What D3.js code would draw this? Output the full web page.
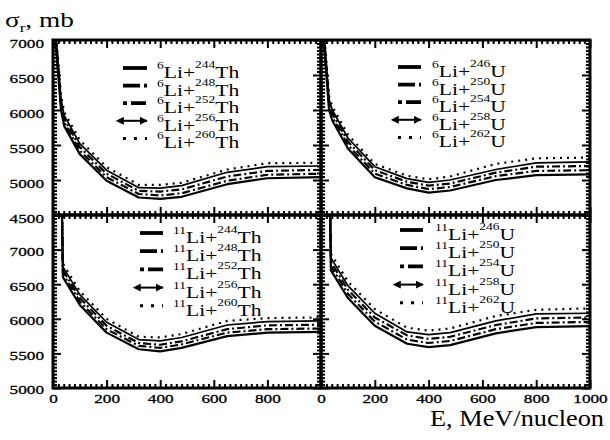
<!DOCTYPE html>
<html><head><meta charset="utf-8">
<script src="https://cdn.jsdelivr.net/npm/d3@7"></script>
<style>
body{margin:0;background:#fff}
svg{display:block}
svg text{font-family:'Liberation Serif','Times New Roman',Times,serif !important;fill:#000}
</style>
</head><body><svg id="c" width="610" height="440" font-family="Liberation Serif"></svg>
<script>
// ---------- data ----------
const energyTop = [8, 30, 42, 100, 200, 320, 400, 480, 650, 800, 1000];
const energyBottom = [33, 37, 100, 200, 320, 400, 480, 650, 800, 1000];
const thMasses = ["244", "248", "252", "256", "260"];
const uMasses = ["246", "250", "254", "258", "262"];
const xTickValues = [0, 200, 400, 600, 800, 1000];
const xLabelsLeft = [0, 200, 400, 600, 800];
const xLabelsRight = [0, 200, 400, 600, 800, 1000];
const yLabelsTop = [4500, 5000, 5500, 6000, 6500, 7000];
const yLabelsBottom = [5000, 5500, 6000, 6500, 7000];

// 6Li + Th (top left)
const li6Th244 = [7050, 6000, 5770, 5370, 4990, 4750, 4730, 4760, 4940, 5025, 5040];
const li6Th248 = [7100, 6050, 5820, 5420, 5040, 4800, 4780, 4810, 4990, 5075, 5090];
const li6Th252 = [7150, 6100, 5870, 5470, 5090, 4845, 4835, 4865, 5050, 5130, 5145];
const li6Th256 = [7200, 6150, 5920, 5520, 5140, 4890, 4885, 4920, 5110, 5190, 5200];
const li6Th260 = [7250, 6200, 5970, 5570, 5185, 4930, 4930, 4960, 5150, 5240, 5245];
// 6Li + U (top right)
const li6U246 = [7100, 6000, 5850, 5450, 5040, 4880, 4820, 4850, 5000, 5070, 5080];
const li6U250 = [7150, 6050, 5900, 5500, 5090, 4930, 4870, 4900, 5055, 5130, 5140];
const li6U254 = [7200, 6100, 5950, 5550, 5140, 4975, 4920, 4950, 5105, 5190, 5200];
const li6U258 = [7250, 6150, 6000, 5600, 5190, 5020, 4965, 5000, 5150, 5245, 5260];
const li6U262 = [7300, 6200, 6050, 5650, 5230, 5060, 5010, 5050, 5230, 5310, 5320];
// 11Li + Th (bottom left)
const li11Th244 = [7600, 6600, 6200, 5800, 5560, 5530, 5580, 5750, 5800, 5810];
const li11Th248 = [7650, 6650, 6250, 5850, 5610, 5580, 5630, 5800, 5850, 5860];
const li11Th252 = [7700, 6700, 6300, 5900, 5650, 5625, 5675, 5850, 5905, 5915];
const li11Th256 = [7750, 6750, 6350, 5950, 5700, 5680, 5730, 5910, 5960, 5970];
const li11Th260 = [7800, 6800, 6400, 6000, 5740, 5730, 5780, 5970, 6010, 6020];
// 11Li + U (bottom right)
const li11U246 = [7650, 6700, 6300, 5900, 5640, 5590, 5620, 5790, 5880, 5895];
const li11U250 = [7700, 6760, 6360, 5960, 5700, 5650, 5680, 5850, 5940, 5955];
const li11U254 = [7750, 6820, 6420, 6020, 5760, 5710, 5740, 5910, 6005, 6020];
const li11U258 = [7800, 6880, 6480, 6080, 5810, 5770, 5800, 5970, 6070, 6080];
const li11U262 = [7850, 6940, 6540, 6140, 5870, 5830, 5860, 6040, 6130, 6150];

// ---------- layout ----------
const FONT = "'Liberation Serif','Times New Roman',Times,serif";
const svg = d3.select("#c");
const X0 = 53, XM = 321, X1 = 590, Y0 = 40, YM = 215, Y1 = 388;
const xLeft = d3.scaleLinear([0, 1000], [X0, XM]);
const xRight = d3.scaleLinear([0, 1000], [XM, X1]);
const yTop = d3.scaleLinear([4500, 7000], [YM, Y0]);
const yBottom = d3.scaleLinear([5000, 7500], [Y1, YM]);

const styles = [
  {w: 2.2, dash: null},
  {w: 2.2, dash: "8,3,2,3"},
  {w: 2.2, dash: "2,3,8,3"},
  {w: 1.7, dash: null},
  {w: 2.2, dash: "2,5"}
];
const legendStyles = [
  {w: 3.8, dash: null},
  {w: 3.8, dash: "17,4,3,20"},
  {w: 3.8, dash: "4,4,15,20"},
  {w: 2, dash: null, arrow: true},
  {w: 3, dash: "3,8"}
];

const panels = [
  {x: xLeft, y: yTop, e: energyTop, proj: "6", tgt: "Th", masses: thMasses,
   vals: [li6Th244, li6Th248, li6Th252, li6Th256, li6Th260],
   leg: {lx0: 123, lx1: 147, ty: 68, tx: 157, dy: 17.6}},
  {x: xRight, y: yTop, e: energyTop, proj: "6", tgt: "U", masses: uMasses,
   vals: [li6U246, li6U250, li6U254, li6U258, li6U262],
   leg: {lx0: 398, lx1: 421, ty: 67, tx: 432, dy: 17.6}},
  {x: xLeft, y: yBottom, e: energyBottom, proj: "11", tgt: "Th", masses: thMasses,
   vals: [li11Th244, li11Th248, li11Th252, li11Th256, li11Th260],
   leg: {lx0: 140, lx1: 163, ty: 233, tx: 173, dy: 18.2}},
  {x: xRight, y: yBottom, e: energyBottom, proj: "11", tgt: "U", masses: uMasses,
   vals: [li11U246, li11U250, li11U254, li11U258, li11U262],
   leg: {lx0: 400, lx1: 423, ty: 230, tx: 435, dy: 18.2}}
];

const defs = svg.append("defs");
["s", "e"].forEach(k => {
  defs.append("marker").attr("id", "arr" + k).attr("viewBox", "0 0 10 10")
    .attr("refX", k === "e" ? 9 : 1).attr("refY", 5)
    .attr("markerWidth", 4).attr("markerHeight", 4).attr("orient", k === "e" ? "auto" : "auto-start-reverse")
    .append("path").attr("d", "M0,0 L10,5 L0,10 z").attr("fill", "#000");
});

panels.forEach((p, i) => {
  const [xa, xb] = p.x.range();
  const [yb, ya] = p.y.range();
  defs.append("clipPath").attr("id", "clip" + i)
    .append("rect").attr("x", xa).attr("y", ya).attr("width", xb - xa).attr("height", yb - ya);

  // ticks
  const xMinor = d3.range(0, 1001, 20).filter(v => v % 200 !== 0);
  const [d0, d1] = p.y.domain();
  const yMajor = d3.range(d0, d1 + 1, 500);
  const yMinor = d3.range(d0, d1 + 1, 50).filter(v => v % 500 !== 0);
  const tickG = svg.append("g").attr("class", "ticks");
  const addAxis = (gen, tr, vals, size) => {
    const g = tickG.append("g").attr("transform", tr)
      .call(gen.tickValues(vals).tickSize(-size).tickFormat(""));
    g.select(".domain").remove();
    g.selectAll("line").attr("stroke", "#000").attr("stroke-width", 2);
  };
  addAxis(d3.axisBottom(p.x), `translate(0,${yb})`, xTickValues, 8);
  addAxis(d3.axisBottom(p.x), `translate(0,${yb})`, xMinor, 4);
  addAxis(d3.axisTop(p.x), `translate(0,${ya})`, xTickValues, 8);
  addAxis(d3.axisTop(p.x), `translate(0,${ya})`, xMinor, 4);
  addAxis(d3.axisLeft(p.y), `translate(${xa},0)`, yMajor, 8);
  addAxis(d3.axisLeft(p.y), `translate(${xa},0)`, yMinor, 4);
  addAxis(d3.axisRight(p.y), `translate(${xb},0)`, yMajor, 8);
  addAxis(d3.axisRight(p.y), `translate(${xb},0)`, yMinor, 4);

  // curves
  const line = d3.line().x((d, j) => p.x(p.e[j])).y(d => p.y(d));
  const cg = svg.append("g").attr("clip-path", `url(#clip${i})`);
  p.vals.forEach((vs, k) => {
    cg.append("path").attr("d", line(vs)).attr("fill", "none").attr("stroke", "#000")
      .attr("stroke-width", styles[k].w).attr("stroke-dasharray", styles[k].dash)
      .attr("stroke-linejoin", "round");
  });

  // legend
  const L = p.leg;
  p.masses.forEach((m, k) => {
    const yy = L.ty + k * L.dy;
    const st = legendStyles[k];
    const ln = svg.append("line").attr("x1", L.lx0).attr("x2", L.lx1).attr("y1", yy).attr("y2", yy)
      .attr("stroke", "#000").attr("stroke-width", st.w).attr("stroke-dasharray", st.dash);
    if (st.arrow) ln.attr("marker-start", "url(#arrs)").attr("marker-end", "url(#arre)");
    const t = svg.append("text").attr("font-family", FONT)
      .attr("transform", `translate(${L.tx},${yy + 10}) scale(1.35,1)`);
    t.append("tspan").attr("font-size", 10).attr("dy", -9).text(p.proj);
    t.append("tspan").attr("font-size", 16).attr("dy", 9).text("Li+");
    t.append("tspan").attr("font-size", 10).attr("dy", -10).text(m);
    t.append("tspan").attr("font-size", 16).attr("dy", 10).text(p.tgt);
  });
});

// frame
svg.append("rect").attr("x", X0).attr("y", Y0).attr("width", X1 - X0).attr("height", Y1 - Y0)
  .attr("fill", "none").attr("stroke", "#000").attr("stroke-width", 3);
svg.append("line").attr("x1", XM).attr("x2", XM).attr("y1", Y0).attr("y2", Y1)
  .attr("stroke", "#000").attr("stroke-width", 3.5);
svg.append("line").attr("x1", X0).attr("x2", X1).attr("y1", YM).attr("y2", YM)
  .attr("stroke", "#000").attr("stroke-width", 3.5);

// tick labels
function styleLabels(g) {
  g.attr("font-family", FONT);
  g.select(".domain").remove();
  g.selectAll("line").remove();
  g.selectAll("text").attr("font-size", 13).attr("font-family", FONT)
    .attr("stroke", "#000").attr("stroke-width", 0.3)
    .attr("textLength", d => String(d).length * 8.6)
    .attr("lengthAdjust", "spacingAndGlyphs");
}
svg.append("g").attr("transform", `translate(${X0},0)`)
  .call(d3.axisLeft(yTop).tickValues(yLabelsTop).tickSize(0).tickPadding(9).tickFormat(d3.format("d")))
  .call(styleLabels).selectAll("text").attr("dy", "0.55em");
svg.append("g").attr("transform", `translate(${X0},0)`)
  .call(d3.axisLeft(yBottom).tickValues(yLabelsBottom).tickSize(0).tickPadding(9).tickFormat(d3.format("d")))
  .call(styleLabels).selectAll("text").attr("dy", "0.45em");
svg.append("g").attr("transform", `translate(0,${Y1})`)
  .call(d3.axisBottom(xLeft).tickValues(xLabelsLeft).tickSize(0).tickPadding(6).tickFormat(d3.format("d")))
  .call(styleLabels);
svg.append("g").attr("transform", `translate(0,${Y1})`)
  .call(d3.axisBottom(xRight).tickValues(xLabelsRight).tickSize(0).tickPadding(6).tickFormat(d3.format("d")))
  .call(styleLabels);

// axis titles
const yt = svg.append("text").attr("font-family", FONT)
  .attr("transform", "translate(5,27) scale(1.3,1)").attr("font-size", 21);
yt.append("tspan").text("σ");
yt.append("tspan").attr("font-size", 13).attr("dy", 5).text("r");
yt.append("tspan").attr("dy", -5).text(", mb");
svg.append("text").attr("font-family", FONT).attr("x", 604).attr("y", 426).attr("text-anchor", "end").attr("font-size", 24)
  .attr("textLength", 174).attr("lengthAdjust", "spacingAndGlyphs").text("E, MeV/nucleon");
</script>
</body></html>
